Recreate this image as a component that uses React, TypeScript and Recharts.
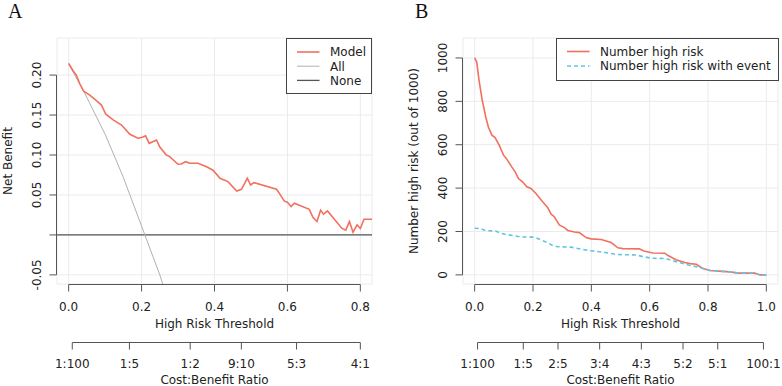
import { LineChart, Line, XAxis, YAxis, CartesianGrid, ReferenceLine, Legend } from 'recharts';

const FONT = "'DejaVu Sans', sans-serif";
const TEXT = '#222222';
const AXIS = '#555555';
const GRID = '#ebebeb';
const RED = '#f2705e';
const BLUE = '#62c6e0';
const ALL_GRAY = '#b0b0b0';

// panel A: decision curve (net benefit vs threshold)
const modelT = [0, 0.012, 0.021, 0.03, 0.041, 0.058, 0.076, 0.09, 0.102, 0.122, 0.145, 0.168, 0.19, 0.202, 0.211, 0.221, 0.241, 0.25, 0.268, 0.277, 0.3, 0.309, 0.321, 0.332, 0.355, 0.378, 0.396, 0.415, 0.437, 0.461, 0.474, 0.49, 0.499, 0.508, 0.57, 0.578, 0.591, 0.6, 0.61, 0.619, 0.66, 0.67, 0.681, 0.691, 0.699, 0.71, 0.749, 0.76, 0.77, 0.78, 0.791, 0.8, 0.81, 0.832];
const modelNB = [0.2146, 0.2054, 0.2, 0.1896, 0.18, 0.175, 0.168, 0.1625, 0.151, 0.144, 0.1375, 0.126, 0.121, 0.1221, 0.124, 0.1146, 0.1188, 0.11, 0.1, 0.098, 0.0884, 0.0888, 0.0917, 0.0896, 0.0896, 0.0854, 0.081, 0.0709, 0.0667, 0.055, 0.057, 0.0709, 0.0625, 0.0654, 0.0571, 0.052, 0.0425, 0.041, 0.0354, 0.0396, 0.032, 0.022, 0.0167, 0.031, 0.026, 0.03, 0.0084, 0.006, 0.0167, 0.0034, 0.0125, 0.008, 0.0196, 0.0196];
const allT = [0, 0.04, 0.1, 0.15, 0.2, 0.25, 0.3];
const allNB = [0.214, 0.181, 0.126, 0.072, 0.011, -0.05, -0.12];

// panel B: clinical impact (number high risk out of 1000)
const riskT = [0, 0.007, 0.015, 0.026, 0.038, 0.047, 0.059, 0.07, 0.084, 0.099, 0.109, 0.127, 0.139, 0.15, 0.164, 0.179, 0.193, 0.21, 0.233, 0.25, 0.262, 0.273, 0.29, 0.308, 0.319, 0.342, 0.359, 0.382, 0.399, 0.434, 0.468, 0.491, 0.508, 0.565, 0.58, 0.611, 0.652, 0.663, 0.692, 0.721, 0.738, 0.76, 0.78, 0.807, 0.85, 0.876, 0.904, 0.96, 0.979, 1.0];
const riskN = [1000, 981, 897, 805, 728, 682, 644, 633, 598, 552, 536, 498, 475, 444, 429, 406, 398, 375, 337, 311, 280, 268, 230, 218, 205, 198, 195, 172, 166, 163, 149, 125, 121, 120, 110, 101, 100, 89, 69, 57, 52, 49, 31, 20, 16, 14, 8, 8, 0, 0];
const eventT = [0, 0.02, 0.038, 0.072, 0.09, 0.107, 0.135, 0.158, 0.199, 0.216, 0.244, 0.267, 0.284, 0.33, 0.371, 0.393, 0.428, 0.462, 0.485, 0.554, 0.577, 0.606, 0.657, 0.68, 0.703, 0.732, 0.749, 0.778, 0.807, 0.85, 0.876, 0.904, 0.96, 0.979, 1.0];
const eventN = [215, 213, 204, 202, 192, 186, 181, 175, 174, 168, 152, 136, 130, 128, 117, 112, 107, 100, 94, 92, 84, 77, 75, 65, 56, 46, 41, 32, 20, 16, 14, 8, 8, 0, 0];

// axes
const thrTicksA = [0, 0.2, 0.4, 0.6, 0.8];
const thrLabelsA = ['0.0', '0.2', '0.4', '0.6', '0.8'];
const thrTicksB = [0, 0.2, 0.4, 0.6, 0.8, 1.0];
const thrLabelsB = ['0.0', '0.2', '0.4', '0.6', '0.8', '1.0'];
const nbTicks = [-0.05, 0, 0.05, 0.1, 0.15, 0.2];
const nbLabels = ['-0.05', '', '0.05', '0.10', '0.15', '0.20'];
const countTicks = [0, 200, 400, 600, 800, 1000];
const countLabels = ['0', '200', '400', '600', '800', '1000'];
const ratioLabelsA = ['1:100', '1:5', '1:2', '9:10', '5:3', '4:1'];
const ratioLabelsB = ['1:100', '1:5', '2:5', '3:4', '4:3', '5:2', '5:1', '100:1'];

// cost:benefit c:b corresponds to threshold c/(c+b)
const ratioToThreshold = (s: string) => {
  const [c, b] = s.split(':').map(Number);
  return c / (c + b);
};
const ratioTicksA = ratioLabelsA.map(ratioToThreshold);
const ratioTicksB = ratioLabelsB.map(ratioToThreshold);

const XDOM_A = [-0.032, 0.832];
const XDOM_B = [-0.04, 1.04];
const YDOM_A = [-0.0614, 0.2464];
const YDOM_B = [-42, 1092];

const CHART_W = 391;
const CHART_H = 386;
const PLOT_W = 315;
const PLOT_H = 246;

const pairs = (xs: number[], ys: number[]) => xs.map((t, i) => ({ t, v: ys[i] }));

const modelRows = pairs(modelT, modelNB);
const allRows = pairs(allT, allNB);
const riskRows = pairs(riskT, riskN);
const eventRows = pairs(eventT, eventN);
// the cost:benefit axis has no series of its own, it needs some data to get a domain
const ratioRowsA = ratioTicksA.map((t) => ({ t }));
const ratioRowsB = ratioTicksB.map((t) => ({ t }));

// R style axis: line only from first to last tick
function makeXTick(ticks: number[], labels: string[], pxPerUnit: number, lineY: number, labelY: number) {
  const span = (ticks[ticks.length - 1] - ticks[0]) * pxPerUnit;
  return (props: any) => {
    const { x, y, payload } = props;
    const i = ticks.indexOf(payload.value);
    return (
      <g>
        {i === 0 && <line x1={x} x2={x + span} y1={y + lineY} y2={y + lineY} stroke={AXIS} />}
        <line x1={x} x2={x} y1={y + lineY} y2={y + lineY + 7} stroke={AXIS} />
        <text x={x} y={y + labelY} textAnchor="middle" fontSize={12} fontFamily={FONT} fill={TEXT}>
          {labels[i]}
        </text>
      </g>
    );
  };
}

function makeYTick(ticks: number[], labels: string[], pxPerUnit: number) {
  const span = (ticks[ticks.length - 1] - ticks[0]) * pxPerUnit;
  return (props: any) => {
    const { x, y, payload } = props;
    const i = ticks.indexOf(payload.value);
    const ax = x - 0.5;
    return (
      <g>
        {i === ticks.length - 1 && <line x1={ax} x2={ax} y1={y} y2={y + span} stroke={AXIS} />}
        <line x1={ax - 7} x2={ax} y1={y} y2={y} stroke={AXIS} />
        <text
          transform={`translate(${ax - 15.5},${y}) rotate(-90)`}
          textAnchor="middle"
          fontSize={12}
          fontFamily={FONT}
          fill={TEXT}
        >
          {labels[i]}
        </text>
      </g>
    );
  };
}

function makeYTitle(text: string) {
  return (props: any) => {
    const vb = props.viewBox;
    const bx = vb.x + vb.width - 45;
    const cy = vb.y + vb.height / 2;
    return (
      <text transform={`translate(${bx},${cy}) rotate(-90)`} textAnchor="middle" fontSize={12} fontFamily={FONT} fill={TEXT}>
        {text}
      </text>
    );
  };
}

const PX_XA = PLOT_W / (XDOM_A[1] - XDOM_A[0]);
const PX_YA = PLOT_H / (YDOM_A[1] - YDOM_A[0]);
const PX_XB = PLOT_W / (XDOM_B[1] - XDOM_B[0]);
const PX_YB = PLOT_H / (YDOM_B[1] - YDOM_B[0]);

const thrTickA = makeXTick(thrTicksA, thrLabelsA, PX_XA, 0.5, 27);
const ratioTickA = makeXTick(ratioTicksA, ratioLabelsA, PX_XA, 10.5, 35.5);
const nbTick = makeYTick(nbTicks, nbLabels, PX_YA);
const thrTickB = makeXTick(thrTicksB, thrLabelsB, PX_XB, 0.5, 27);
const ratioTickB = makeXTick(ratioTicksB, ratioLabelsB, PX_XB, 10.5, 35.5);
const countTick = makeYTick(countTicks, countLabels, PX_YB);

const titleStyle = { fill: TEXT, fontSize: 12, fontFamily: FONT };
const thrTitle = { value: 'High Risk Threshold', position: 'insideTop' as const, offset: 35, ...titleStyle };
const ratioTitle = { value: 'Cost:Benefit Ratio', position: 'insideTop' as const, offset: 43, ...titleStyle };
const nbTitle = { content: makeYTitle('Net Benefit') };
const countTitle = { content: makeYTitle('Number high risk (out of 1000)') };

interface LegendItem {
  label: string;
  color: string;
  width: number;
  dash?: string;
}

function LegendBox({ items, width, height, rowY, textX }: { items: LegendItem[]; width: number; height: number; rowY: number[]; textX: number }) {
  return (
    <svg width={width} height={height} style={{ display: 'block' }}>
      <rect x={0.5} y={0.5} width={width - 1} height={height - 1} fill="#fff" stroke="#444" />
      {items.map((it, i) => (
        <g key={it.label}>
          <line x1={11} x2={33.5} y1={rowY[i]} y2={rowY[i]} stroke={it.color} strokeWidth={it.width} strokeDasharray={it.dash} />
          <text x={textX} y={rowY[i] + 4.3} fontSize={12} fontFamily={FONT} fill={TEXT}>
            {it.label}
          </text>
        </g>
      ))}
    </svg>
  );
}

const legendA = () => (
  <LegendBox
    width={86}
    height={56}
    rowY={[14, 28.2, 42.4]}
    textX={44}
    items={[
      { label: 'Model', color: RED, width: 1.6 },
      { label: 'All', color: ALL_GRAY, width: 1 },
      { label: 'None', color: AXIS, width: 1.3 },
    ]}
  />
);

const legendB = () => (
  <LegendBox
    width={223}
    height={43}
    rowY={[13.5, 28]}
    textX={44}
    items={[
      { label: 'Number high risk', color: RED, width: 1.6 },
      { label: 'Number high risk with event', color: BLUE, width: 1.6, dash: '4 3' },
    ]}
  />
);

const legendWrapA = { left: 286, top: 38, width: 86, height: 56 };
const legendWrapB = { left: 165, top: 38, width: 223, height: 43 };

function PanelA() {
  return (
    <LineChart width={CHART_W} height={CHART_H} data={ratioRowsA} margin={{ top: 38, right: 19, bottom: 0, left: 0 }}>
      <CartesianGrid xAxisId="a_thr" stroke={GRID} />
      <XAxis
        xAxisId="b_cb"
        type="number"
        dataKey="t"
        domain={XDOM_A}
        allowDataOverflow
        ticks={ratioTicksA}
        interval={0}
        tickSize={0}
        tickMargin={0}
        axisLine={false}
        tickLine={false}
        height={54}
        tick={ratioTickA}
        label={ratioTitle}
      />
      <XAxis
        xAxisId="a_thr"
        type="number"
        dataKey="t"
        domain={XDOM_A}
        allowDataOverflow
        ticks={thrTicksA}
        interval={0}
        tickSize={0}
        tickMargin={0}
        axisLine={false}
        tickLine={false}
        height={48}
        tick={thrTickA}
        label={thrTitle}
      />
      <YAxis
        type="number"
        domain={YDOM_A}
        allowDataOverflow
        ticks={nbTicks}
        interval={0}
        tickSize={0}
        tickMargin={0}
        axisLine={false}
        tickLine={false}
        width={57}
        tick={nbTick}
        label={nbTitle}
      />
      <ReferenceLine xAxisId="a_thr" y={0} stroke={AXIS} strokeWidth={1.3} />
      <Line xAxisId="a_thr" data={allRows} dataKey="v" type="linear" stroke={ALL_GRAY} strokeWidth={1} dot={false} isAnimationActive={false} />
      <Line xAxisId="a_thr" data={modelRows} dataKey="v" type="linear" stroke={RED} strokeWidth={1.6} dot={false} isAnimationActive={false} />
      <Legend layout="horizontal" verticalAlign="middle" align="center" wrapperStyle={legendWrapA} content={legendA} />
    </LineChart>
  );
}

function PanelB() {
  return (
    <LineChart width={CHART_W} height={CHART_H} data={ratioRowsB} margin={{ top: 38, right: 4, bottom: 0, left: 0 }}>
      <CartesianGrid xAxisId="a_thr" stroke={GRID} />
      <XAxis
        xAxisId="b_cb"
        type="number"
        dataKey="t"
        domain={XDOM_B}
        allowDataOverflow
        ticks={ratioTicksB}
        interval={0}
        tickSize={0}
        tickMargin={0}
        axisLine={false}
        tickLine={false}
        height={54}
        tick={ratioTickB}
        label={ratioTitle}
      />
      <XAxis
        xAxisId="a_thr"
        type="number"
        dataKey="t"
        domain={XDOM_B}
        allowDataOverflow
        ticks={thrTicksB}
        interval={0}
        tickSize={0}
        tickMargin={0}
        axisLine={false}
        tickLine={false}
        height={48}
        tick={thrTickB}
        label={thrTitle}
      />
      <YAxis
        type="number"
        domain={YDOM_B}
        allowDataOverflow
        ticks={countTicks}
        interval={0}
        tickSize={0}
        tickMargin={0}
        axisLine={false}
        tickLine={false}
        width={72}
        tick={countTick}
        label={countTitle}
      />
      <Line xAxisId="a_thr" data={riskRows} dataKey="v" type="linear" stroke={RED} strokeWidth={1.6} dot={false} isAnimationActive={false} />
      <Line xAxisId="a_thr" data={eventRows} dataKey="v" type="linear" stroke={BLUE} strokeWidth={1.6} strokeDasharray="4 3" dot={false} isAnimationActive={false} />
      <Legend layout="horizontal" verticalAlign="middle" align="center" wrapperStyle={legendWrapB} content={legendB} />
    </LineChart>
  );
}

export default function App() {
  return (
    <div style={{ position: 'absolute', left: 0, top: 0, width: 782, height: 386, background: '#fff' }}>
      <div style={{ position: 'absolute', left: 0, top: 0 }}>
        <PanelA />
      </div>
      <div style={{ position: 'absolute', left: 391, top: 0 }}>
        <PanelB />
      </div>
      <svg width={782} height={386} style={{ position: 'absolute', left: 0, top: 0, pointerEvents: 'none' }}>
        <text x={8} y={18} fontSize={20} fontFamily="'Liberation Serif', serif" fill="#111">A</text>
        <text x={415} y={18} fontSize={20} fontFamily="'Liberation Serif', serif" fill="#111">B</text>
      </svg>
    </div>
  );
}
